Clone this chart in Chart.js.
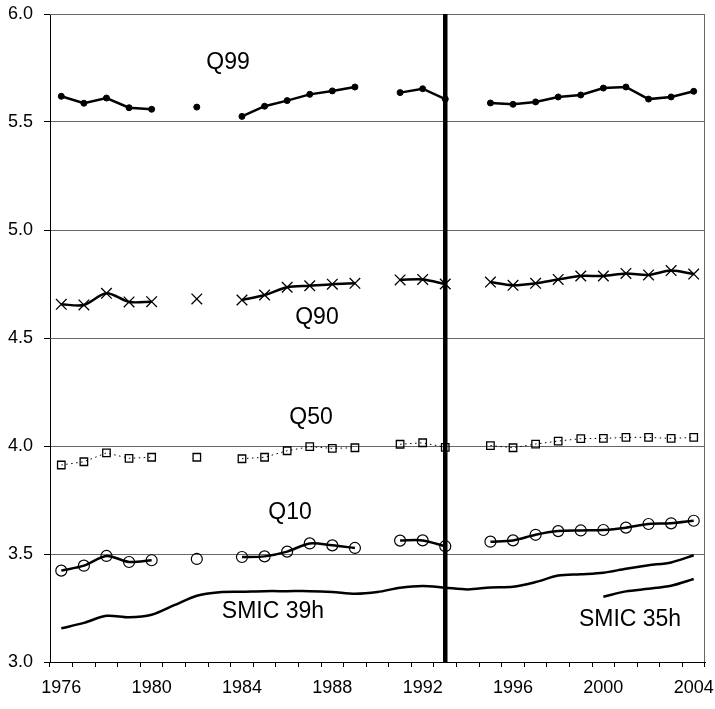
<!DOCTYPE html>
<html>
<head>
<meta charset="utf-8">
<script src="https://cdn.jsdelivr.net/npm/chart.js@4/dist/chart.umd.min.js"></script>
<style>
  html, body { margin: 0; padding: 0; background: #fff; }
  #wrap { width: 715px; height: 709px; }
</style>
</head>
<body>
<div id="wrap"><canvas id="chart" width="715" height="709"></canvas></div>
<script>
// years on the category axis
const years = [];
for (let y = 1976; y <= 2004; y++) years.push(String(y));

// log hourly wage quantiles (null = no survey that year)
const q99 = [5.619, 5.587, 5.611, 5.566, 5.559, null, 5.569, null, 5.526, 5.573,
  5.599, 5.628, 5.644, 5.662, null, 5.636, 5.654, 5.606, null, 5.588,
  5.582, 5.593, 5.616, 5.625, 5.657, 5.662, 5.606, 5.616, 5.642];
const q90 = [4.656, 4.653, 4.707, 4.667, 4.668, null, 4.681, null, 4.676, 4.699,
  4.735, 4.742, 4.749, 4.753, null, 4.769, 4.771, 4.750, null, 4.759,
  4.744, 4.753, 4.771, 4.787, 4.787, 4.799, 4.792, 4.812, 4.796];
const q50 = [3.912, 3.927, 3.968, 3.943, 3.948, null, 3.948, null, 3.941, 3.948,
  3.978, 3.997, 3.989, 3.992, null, 4.008, 4.015, 3.994, null, 4.002,
  3.992, 4.009, 4.023, 4.034, 4.035, 4.040, 4.040, 4.035, 4.040];
const q10 = [3.423, 3.446, 3.491, 3.463, 3.471, null, 3.477, null, 3.486, 3.489,
  3.511, 3.549, 3.540, 3.528, null, 3.562, 3.563, 3.536, null, 3.557,
  3.563, 3.589, 3.606, 3.609, 3.611, 3.622, 3.639, 3.642, 3.654];
const smic39 = [3.156, 3.181, 3.214, 3.207, 3.219, 3.263, 3.307, 3.323, 3.325, 3.328,
  3.328, 3.328, 3.324, 3.316, 3.324, 3.344, 3.352, 3.344, 3.336, 3.345,
  3.348, 3.370, 3.400, 3.406, 3.413, 3.432, 3.448, 3.461, 3.494];
const smic35 = [null, null, null, null, null, null, null, null, null, null,
  null, null, null, null, null, null, null, null, null, null,
  null, null, null, null, 3.302, 3.327, 3.339, 3.353, 3.384];

// break year marker
const breakYear = '1993';

// text labels in data units
const labels = [
  { text: 'Q99', year: 1983.38, value: 5.773 },
  { text: 'Q90', year: 1987.32, value: 4.593 },
  { text: 'Q50', year: 1987.06, value: 4.130 },
  { text: 'Q10', year: 1986.13, value: 3.690 },
  { text: 'SMIC 39h', year: 1985.37, value: 3.231 },
  { text: 'SMIC 35h', year: 2001.18, value: 3.194 },
];

const FONT = 'Liberation Sans, Arial, sans-serif';

const frame = {
  id: 'frame',
  beforeDatasetsDraw(chart) {
    const { ctx, chartArea: a } = chart;
    ctx.save();
    ctx.strokeStyle = '#666';
    ctx.lineWidth = 1;
    ctx.beginPath();
    ctx.moveTo(a.left, a.top + 0.5);
    ctx.lineTo(a.right - 0.5, a.top + 0.5);
    ctx.lineTo(a.right - 0.5, a.bottom);
    ctx.stroke();
    ctx.restore();
  },
  afterDatasetsDraw(chart) {
    const { ctx } = chart;
    const x = chart.scales.x, y = chart.scales.y;
    ctx.save();
    ctx.fillStyle = '#000';
    ctx.font = '23px ' + FONT;
    ctx.textAlign = 'center';
    ctx.textBaseline = 'middle';
    labels.forEach(l => {
      ctx.fillText(l.text, x.getPixelForValue(l.year - 1976), y.getPixelForValue(l.value));
    });
    ctx.restore();
  }
};

new Chart(document.getElementById('chart'), {
  type: 'line',
  data: {
    labels: years,
    datasets: [
      {
        data: q99, borderColor: '#000', borderWidth: 2.5, tension: 0,
        pointStyle: 'circle', pointRadius: 3, pointBackgroundColor: '#000', pointBorderColor: '#000', pointBorderWidth: 1,
      },
      {
        data: q90, borderColor: '#000', borderWidth: 2.5, tension: 0.3,
        pointStyle: 'crossRot', pointRadius: 7.5, pointBorderColor: '#000', pointBorderWidth: 1.3,
      },
      {
        data: q50, borderColor: '#000', borderWidth: 1, borderDash: [1.5, 3.5], tension: 0,
        pointStyle: 'rect', pointRadius: 5.3, pointBackgroundColor: 'rgba(0,0,0,0)', pointBorderColor: '#000', pointBorderWidth: 1.3,
      },
      {
        data: q10, borderColor: '#000', borderWidth: 2.5, tension: 0.3,
        pointStyle: 'circle', pointRadius: 5.5, pointBackgroundColor: 'rgba(0,0,0,0)', pointBorderColor: '#000', pointBorderWidth: 1.2,
      },
      {
        data: smic39, borderColor: '#000', borderWidth: 2.5, tension: 0.3, pointRadius: 0,
      },
      {
        data: smic35, borderColor: '#000', borderWidth: 2.5, tension: 0.3, pointRadius: 0,
      },
      {
        data: [{ x: breakYear, y: 3.0 }, { x: breakYear, y: 6.0 }],
        borderColor: '#000', borderWidth: 4.5, pointRadius: 0,
      },
    ],
  },
  options: {
    responsive: false,
    animation: false,
    layout: { padding: { top: 14, right: 10, left: 0, bottom: 0 } },
    plugins: { legend: { display: false }, tooltip: { enabled: false } },
    scales: {
      x: {
        offset: true,
        grid: { offset: true, drawOnChartArea: false, drawTicks: true, tickLength: 5, color: '#000' },
        border: { color: '#000', width: 1 },
        ticks: {
          autoSkip: false, maxRotation: 0, padding: 10, color: '#000',
          font: { family: FONT, size: 18 },
          callback: (v, i) => ((i % 4) === 0 ? years[i] : ''),
        },
        afterFit(s) { s.height = 47; s.paddingLeft = 0; s.paddingRight = 0; },
      },
      y: {
        min: 3.0, max: 6.0,
        grid: { color: '#666', lineWidth: 1, tickLength: 6, tickColor: '#000' },
        border: { color: '#000', width: 1 },
        ticks: {
          stepSize: 0.5, padding: 11, color: '#000',
          font: { family: FONT, size: 18 },
          callback: v => v.toFixed(1),
        },
        afterFit(s) { s.width = 50; s.paddingTop = 0; s.paddingBottom = 0; },
      },
    },
  },
  plugins: [frame],
});
</script>
</body>
</html>
